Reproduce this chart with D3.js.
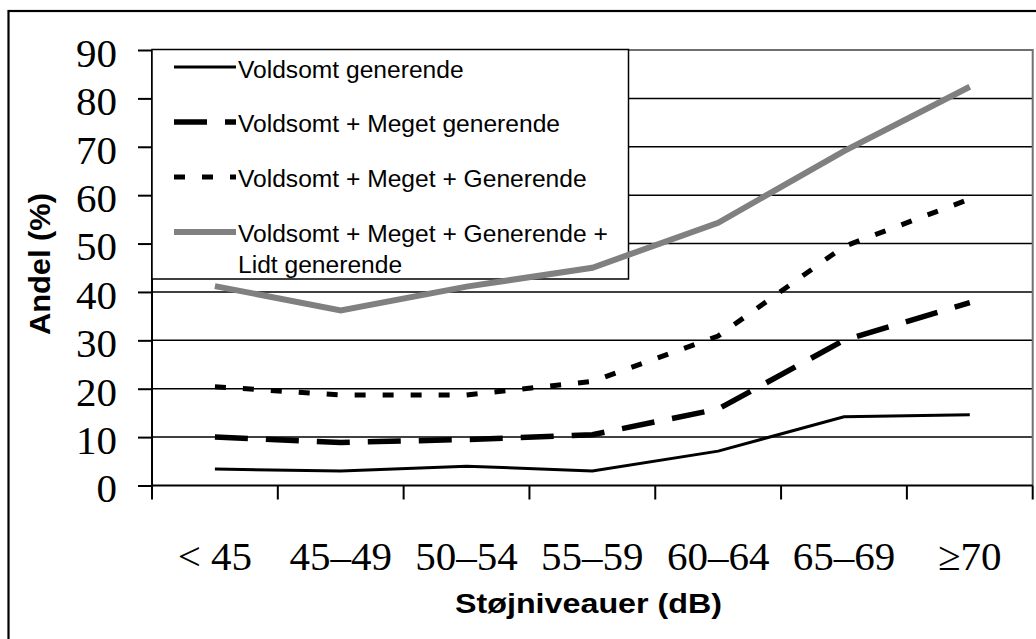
<!DOCTYPE html>
<html>
<head>
<meta charset="utf-8">
<script src="https://cdn.jsdelivr.net/npm/d3@7"></script>
<style>
  html, body { margin: 0; padding: 0; background: #fff; }
  svg { display: block; }
</style>
</head>
<body>
<div id="chart"></div>
<script>
// ===== Data =====
const categories = ['< 45', '45–49', '50–54', '55–59', '60–64', '65–69', '≥70'];
const seriesNames = [
  ['Voldsomt generende'],
  ['Voldsomt + Meget generende'],
  ['Voldsomt + Meget + Generende'],
  ['Voldsomt + Meget + Generende +', 'Lidt generende']
];
const voldsomt = [3.4, 3.0, 4.0, 3.0, 7.1, 14.2, 14.6];
const voldsomtMeget = [10.0, 8.9, 9.5, 10.5, 15.8, 30.0, 37.8];
const voldsomtMegetGenerende = [20.4, 18.7, 18.7, 21.5, 30.9, 49.4, 59.2];
const voldsomtMegetGenerendeLidt = [41.2, 36.2, 41.1, 45.0, 54.3, 69.1, 82.4];
const yTicks = [0, 10, 20, 30, 40, 50, 60, 70, 80, 90];
const yTitle = 'Andel (%)';
const xTitle = 'Støjniveauer (dB)';

// ===== Setup =====
const W = 1036, H = 639;
const plot = { left: 152, right: 1032.7, top: 50, bottom: 485.5 };

const styles = [
  { stroke: '#000', width: 3, dash: null },
  { stroke: '#000', width: 5.5, dash: '33,18' },
  { stroke: '#000', width: 5, dash: '11,17' },
  { stroke: '#808080', width: 6, dash: null }
];

const svg = d3.select('#chart')
  .append('svg')
  .attr('width', W)
  .attr('height', H);

// outer frame (runs off the right and bottom edges)
svg.append('rect')
  .attr('x', 8.5).attr('y', 11)
  .attr('width', 1040).attr('height', 640)
  .attr('fill', 'none')
  .attr('stroke', '#000')
  .attr('stroke-width', 2.2);

const x = d3.scaleBand()
  .domain(categories)
  .range([plot.left, plot.right])
  .padding(0);

const y = d3.scaleLinear()
  .domain([0, 90])
  .range([plot.bottom, plot.top]);

// gridlines
svg.append('g')
  .selectAll('line')
  .data(yTicks.filter(d => d > 0 && d < 90))
  .enter().append('line')
  .attr('x1', plot.left).attr('x2', plot.right)
  .attr('y1', d => y(d)).attr('y2', d => y(d))
  .attr('stroke', '#000')
  .attr('stroke-width', 1.5);

// plot area top / right border (grey)
svg.append('path')
  .attr('d', `M${plot.left},${y(90)}H${plot.right}V${plot.bottom}`)
  .attr('fill', 'none')
  .attr('stroke', '#707070')
  .attr('stroke-width', 2);

// y axis
const yAxis = svg.append('g')
  .attr('transform', `translate(${plot.left},0)`)
  .call(d3.axisLeft(y).tickValues(yTicks).tickSize(14).tickPadding(21).tickFormat(d => d));
yAxis.select('.domain').attr('stroke-width', 2).attr('d', `M0,${plot.top}V${plot.bottom}`);
yAxis.selectAll('.tick line').attr('stroke-width', 2);
yAxis.selectAll('.tick text')
  .attr('font-family', '"Liberation Serif", "Times New Roman", serif')
  .attr('font-size', 41)
  .attr('dy', '0.4em')
  .attr('fill', '#000');

// x axis: ticks on category boundaries
const boundaries = categories.map(c => x(c)).concat([x(categories[categories.length - 1]) + x.bandwidth()]);
svg.append('line')
  .attr('x1', plot.left).attr('x2', plot.right)
  .attr('y1', plot.bottom).attr('y2', plot.bottom)
  .attr('stroke', '#000').attr('stroke-width', 2);
svg.append('g')
  .selectAll('line')
  .data(boundaries)
  .enter().append('line')
  .attr('x1', d => d).attr('x2', d => d)
  .attr('y1', plot.bottom).attr('y2', plot.bottom + 14)
  .attr('stroke', '#000').attr('stroke-width', 2);
svg.append('g')
  .selectAll('text')
  .data(categories)
  .enter().append('text')
  .attr('x', d => x(d) + x.bandwidth() / 2)
  .attr('y', 570)
  .attr('text-anchor', 'middle')
  .attr('font-family', '"Liberation Serif", "Times New Roman", serif')
  .attr('font-size', 41)
  .text(d => d);

// axis titles
svg.append('text')
  .attr('transform', 'translate(50,264) rotate(-90)')
  .attr('text-anchor', 'middle')
  .attr('font-family', '"Liberation Sans", Arial, sans-serif')
  .attr('font-weight', 'bold')
  .attr('font-size', 30)
  .attr('textLength', 142)
  .attr('lengthAdjust', 'spacingAndGlyphs')
  .text(yTitle);

svg.append('text')
  .attr('x', 588.5)
  .attr('y', 613)
  .attr('text-anchor', 'middle')
  .attr('font-family', '"Liberation Sans", Arial, sans-serif')
  .attr('font-weight', 'bold')
  .attr('font-size', 27)
  .attr('textLength', 267)
  .attr('lengthAdjust', 'spacingAndGlyphs')
  .text(xTitle);

// ===== Legend (drawn under the series lines) =====
const legend = svg.append('g');
legend.append('rect')
  .attr('x', plot.left).attr('y', 49.5)
  .attr('width', 628.5 - plot.left).attr('height', 279 - 49.5)
  .attr('fill', '#fff')
  .attr('stroke', '#000')
  .attr('stroke-width', 1.5);

const rowLineY = [67, 122, 177, 232];
const rowTextY = [78.3, 131.7, 186.7, 241.7];
const legendRows = legend.selectAll('g.row')
  .data(seriesNames)
  .enter().append('g')
  .attr('class', 'row');

legendRows.append('line')
  .attr('x1', 174).attr('x2', 236)
  .attr('y1', (d, i) => rowLineY[i]).attr('y2', (d, i) => rowLineY[i])
  .attr('stroke', (d, i) => styles[i].stroke)
  .attr('stroke-width', (d, i) => styles[i].width)
  .attr('stroke-dasharray', (d, i) => styles[i].dash);

legendRows.append('text')
  .attr('font-family', '"Liberation Sans", Arial, sans-serif')
  .attr('font-size', 24.6)
  .selectAll('tspan')
  .data((d, i) => d.map((t, j) => ({ t, j, i })))
  .enter().append('tspan')
  .attr('x', 238)
  .attr('y', d => rowTextY[d.i] + d.j * 31.6)
  .text(d => d.t);

// ===== Series =====
const allSeries = [voldsomt, voldsomtMeget, voldsomtMegetGenerende, voldsomtMegetGenerendeLidt];
const line = d3.line()
  .x((d, i) => x(categories[i]) + x.bandwidth() / 2)
  .y(d => y(d));

svg.append('g')
  .selectAll('path')
  .data(allSeries)
  .enter().append('path')
  .attr('d', line)
  .attr('fill', 'none')
  .attr('stroke', (d, i) => styles[i].stroke)
  .attr('stroke-width', (d, i) => styles[i].width)
  .attr('stroke-dasharray', (d, i) => styles[i].dash)
  .attr('stroke-linejoin', 'miter');
</script>
</body>
</html>
